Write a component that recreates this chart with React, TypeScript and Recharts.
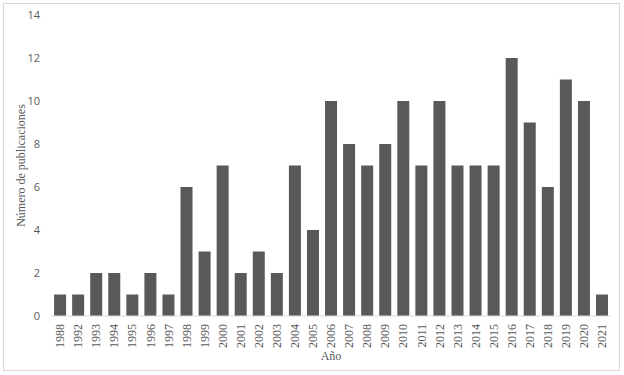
import React from 'react';
import { BarChart, Bar, XAxis, YAxis } from 'recharts';

const years = ['1988','1992','1993','1994','1995','1996','1997','1998','1999','2000','2001','2002','2003','2004','2005','2006','2007','2008','2009','2010','2011','2012','2013','2014','2015','2016','2017','2018','2019','2020','2021'];
const publications = [1,1,2,2,1,2,1,6,3,7,2,3,2,7,4,10,8,7,8,10,7,10,7,7,7,12,9,6,11,10,1];
const yTicks = [0,2,4,6,8,10,12,14];

const data = years.map((y, i) => ({ year: y, value: publications[i] }));

const XTick = (props: any) => {
  const { x, y, payload } = props;
  return (
    <text
      x={x}
      y={y}
      transform={`rotate(-90, ${x}, ${y})`}
      textAnchor="end"
      dy="0.35em"
      fill="#595959"
      fontFamily="'Liberation Serif', 'Times New Roman', serif"
      fontSize={12}
    >
      {payload.value}
    </text>
  );
};

export default function App() {
  return (
    <div style={{ position: 'absolute', left: 0, top: 0, width: 624, height: 375, background: '#fff' }}>
      <div style={{ position: 'absolute', left: 3, top: 3, width: 617, height: 368, border: '1px solid #d9d9d9', boxSizing: 'border-box' }} />
      <div style={{ position: 'absolute', left: 0, top: 0 }}>
        <BarChart width={624} height={375} data={data} margin={{ top: 15, right: 13, bottom: 9, left: 0 }} barCategoryGap="17%">
          <XAxis
            dataKey="year"
            interval={0}
            tick={<XTick />}
            tickLine={false}
            axisLine={{ stroke: '#d9d9d9' }}
            height={50}
            tickMargin={2}
            label={{ value: 'Año', position: 'insideBottom', offset: 6, fill: '#595959', fontSize: 12, fontFamily: "'Liberation Serif', 'Times New Roman', serif" }}
          />
          <YAxis
            width={51}
            domain={[0, 14]}
            ticks={yTicks}
            interval={0}
            tickLine={false}
            axisLine={false}
            tickMargin={5}
            tick={{ fill: '#595959', fontSize: 11, fontFamily: "'Open Sans', 'Noto Sans', sans-serif" }}
            label={{ value: 'Número de publicaciones', angle: -90, position: 'center', dx: -5, fill: '#595959', fontSize: 12, fontFamily: "'Liberation Serif', 'Times New Roman', serif" }}
          />
          <Bar dataKey="value" fill="#595959" isAnimationActive={false} />
        </BarChart>
      </div>
    </div>
  );
}
